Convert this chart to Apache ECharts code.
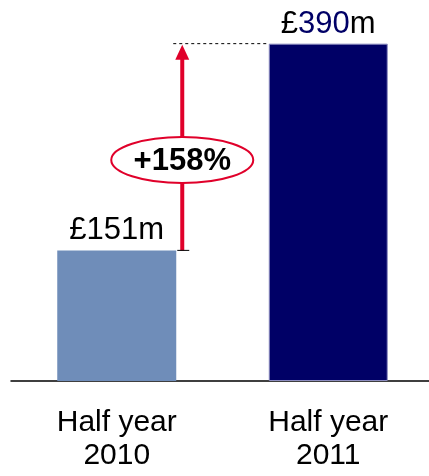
<!DOCTYPE html>
<html>
<head>
<meta charset="utf-8">
<script src="https://cdn.jsdelivr.net/npm/echarts@6/dist/echarts.min.js"></script>
<style>
  html, body { margin: 0; padding: 0; background: #fff; }
  #chart { width: 429px; height: 476px; }
</style>
</head>
<body>
<div id="chart"></div>
<script>
// Half-year figures, £m
const categories = ['Half year\n2010', 'Half year\n2011'];
const values = [151, 390];
const barColors = ['#6F8DB9', '#000066'];

const FONT = '"Liberation Sans", Arial, sans-serif';
const BAR_WIDTH = 119;

const chart = echarts.init(document.getElementById('chart'), null, { renderer: 'canvas' });

chart.setOption({
  animation: false,
  backgroundColor: '#ffffff',
  grid: { left: 11, width: 423, top: 35, bottom: 95, containLabel: false, outerBoundsMode: 'none' },
  xAxis: {
    type: 'category',
    data: categories,
    axisLine: { lineStyle: { color: '#000', width: 1.5 } },
    axisTick: { show: false },
    axisLabel: {
      margin: 25,
      fontFamily: FONT,
      fontSize: 30,
      lineHeight: 33,
      color: '#000'
    }
  },
  yAxis: {
    type: 'value',
    min: 0,
    max: 400,
    show: false,
    splitLine: { show: false }
  },
  series: [{
    type: 'bar',
    barWidth: BAR_WIDTH,
    data: values.map((v, i) => ({
      value: v,
      itemStyle: {
        color: barColors[i],
        borderColor: i === 1 ? '#8C8CC0' : barColors[i],
        borderWidth: i === 1 ? 1 : 0
      },
      label: {
        formatter: i === 1 ? '{a|£}{b|' + v + '}{a|m}' : '{a|£}{a|' + v + '}{a|m}'
      }
    })),
    label: {
      show: true,
      position: 'top',
      distance: 4,
      rich: {
        a: { fontFamily: FONT, fontSize: 31, color: '#000', lineHeight: 31 },
        b: { fontFamily: FONT, fontSize: 31, color: '#000066', lineHeight: 31 }
      }
    }
  }]
});

// Growth arrow, dashed guide and percentage bubble, placed from the data
function drawGrowth() {
  const p0 = chart.convertToPixel({ gridIndex: 0 }, [0, values[0]]);
  const p1 = chart.convertToPixel({ gridIndex: 0 }, [1, values[1]]);
  const ax = p0[0] + BAR_WIDTH / 2 + 6;
  const yLow = p0[1];
  const yHigh = p1[1];
  const bar2Left = p1[0] - BAR_WIDTH / 2;
  const pct = Math.round((values[1] - values[0]) / values[0] * 100);
  const red = '#E0002A';
  const cy = (yLow + yHigh) / 2 + 13;

  chart.setOption({
    graphic: [
      {
        type: 'line',
        shape: { x1: ax - 9, y1: yHigh, x2: bar2Left, y2: yHigh },
        style: { stroke: '#000', lineWidth: 1, lineDash: [3, 3] },
        z: 10
      },
      {
        type: 'line',
        shape: { x1: ax, y1: yLow, x2: ax, y2: yHigh + 15 },
        style: { stroke: red, lineWidth: 4 },
        z: 10
      },
      {
        type: 'polygon',
        shape: { points: [[ax, yHigh + 1], [ax - 7, yHigh + 16], [ax + 7, yHigh + 16]] },
        style: { fill: red },
        z: 11
      },
      {
        type: 'line',
        shape: { x1: ax - 5, y1: yLow, x2: ax + 7, y2: yLow },
        style: { stroke: '#000', lineWidth: 1 },
        z: 11
      },
      {
        type: 'ellipse',
        shape: { cx: ax, cy: cy, rx: 71, ry: 23 },
        style: { fill: '#fff', stroke: red, lineWidth: 2 },
        z: 12
      },
      {
        type: 'text',
        x: ax,
        y: cy + 1,
        style: {
          text: '+' + pct + '%',
          fontFamily: FONT,
          fontWeight: 'bold',
          fontSize: 31,
          fill: '#000',
          align: 'center',
          verticalAlign: 'middle'
        },
        z: 13
      }
    ]
  });
}
drawGrowth();
</script>
</body>
</html>
